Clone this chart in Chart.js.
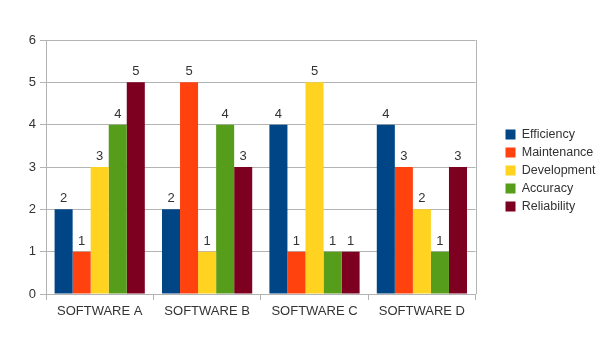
<!DOCTYPE html>
<html>
<head>
  <title>Software comparison</title>
  <script src="https://cdn.jsdelivr.net/npm/chart.js"></script>
  <style>
    html, body { margin: 0; padding: 0; background: #fff; }
    #wrap { width: 605px; height: 341px; }
  </style>
</head>
<body>
  <div id="wrap"><canvas id="chart"></canvas></div>
  <script>
    // data
    const categories = ['SOFTWARE A', 'SOFTWARE B', 'SOFTWARE C', 'SOFTWARE D'];
    const efficiency = [2, 2, 4, 4];
    const maintenance = [1, 5, 1, 3];
    const development = [3, 1, 5, 2];
    const accuracy = [4, 4, 1, 1];
    const reliability = [5, 3, 1, 3];
    const yTicks = [0, 1, 2, 3, 4, 5, 6];

    const seriesNames = ['Efficiency', 'Maintenance', 'Development', 'Accuracy', 'Reliability'];
    const seriesData = [efficiency, maintenance, development, accuracy, reliability];
    const colors = ['#004586', '#ff420e', '#ffd320', '#579d1c', '#7e0021'];

    const fontFamily = '"Liberation Sans", Arial, sans-serif';
    const gridColor = '#b3b3b3';
    const textColor = '#333333';

    // value labels above bars, right border line, legend nudge
    const extras = {
      id: 'extras',
      afterLayout(chart) {
        // legend sits a bit further right and higher than Chart.js puts it
        const lg = chart.legend;
        const dx = Math.round(chart.chartArea.right) + 24 - lg.left;
        lg.left += dx; lg.right += dx;
        lg.top -= 20; lg.bottom -= 20;
      },
      afterDatasetsDraw(chart) {
        const ctx = chart.ctx;
        ctx.save();
        ctx.font = '13px ' + fontFamily;
        ctx.fillStyle = textColor;
        ctx.textAlign = 'center';
        ctx.textBaseline = 'bottom';
        chart.data.datasets.forEach((ds, i) => {
          chart.getDatasetMeta(i).data.forEach((bar, j) => {
            ctx.fillText(String(ds.data[j]), bar.x, bar.y - 4);
          });
        });
        const a = chart.chartArea;
        ctx.strokeStyle = gridColor;
        ctx.lineWidth = 1;
        ctx.beginPath();
        ctx.moveTo(Math.round(a.right) + 0.5, a.top);
        ctx.lineTo(Math.round(a.right) + 0.5, a.bottom);
        ctx.stroke();
        ctx.restore();
      }
    };

    new Chart(document.getElementById('chart'), {
      type: 'bar',
      data: {
        labels: categories,
        datasets: seriesNames.map((name, i) => ({
          label: name,
          data: seriesData[i],
          backgroundColor: colors[i],
          borderWidth: 0,
          barPercentage: 1.0,
          categoryPercentage: 0.84
        }))
      },
      options: {
        responsive: true,
        maintainAspectRatio: false,
        animation: false,
        layout: { padding: { top: 40, left: 0, right: 24, bottom: 0 } },
        plugins: {
          tooltip: { enabled: false },
          legend: {
            position: 'right',
            labels: {
              boxWidth: 10,
              boxHeight: 10,
              padding: 5.5,
              color: textColor,
              font: { family: fontFamily, size: 12.5 }
            }
          }
        },
        scales: {
          x: {
            grid: {
              offset: true,
              drawOnChartArea: false,
              drawTicks: true,
              tickLength: 6,
              color: gridColor
            },
            border: { color: gridColor },
            ticks: { color: textColor, font: { family: fontFamily, size: 13 }, padding: 4 },
            afterFit(scale) { scale.height = 47; }
          },
          y: {
            min: 0,
            max: 6,
            afterBuildTicks(scale) { scale.ticks = yTicks.map(v => ({ value: v })); },
            grid: { color: gridColor, tickLength: 6 },
            border: { color: gridColor },
            ticks: { color: textColor, font: { family: fontFamily, size: 13 }, padding: 4 },
            afterFit(scale) { scale.width = 46; }
          }
        }
      },
      plugins: [extras]
    });
  </script>
</body>
</html>
